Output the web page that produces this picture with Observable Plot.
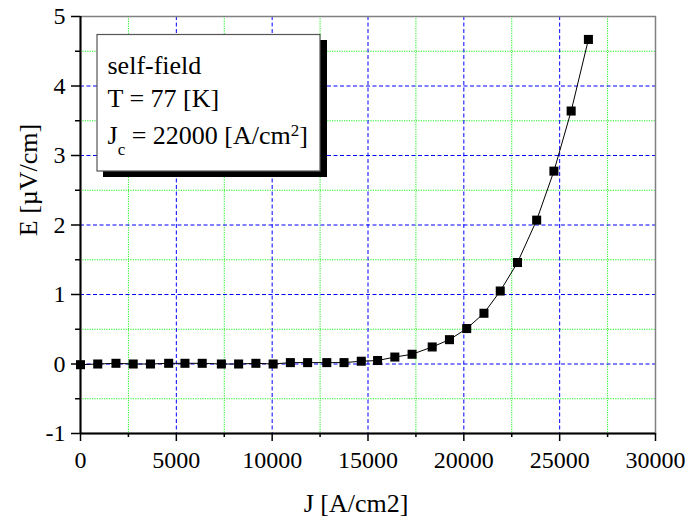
<!DOCTYPE html>
<html>
<head>
<meta charset="utf-8">
<script src="https://cdn.jsdelivr.net/npm/d3@7"></script>
<script src="https://cdn.jsdelivr.net/npm/@observablehq/plot@0.6"></script>
<style>
  html, body { margin: 0; padding: 0; background: #fff; }
  #chart { position: relative; width: 690px; height: 518px; }
  #chart svg, #chart svg text { font-family: "Liberation Serif", "Times New Roman", serif !important; }
</style>
</head>
<body>
<div id="chart"></div>
<script>
// Data
const J = [0, 900, 1850, 2750, 3650, 4600, 5450, 6350, 7350, 8250, 9150, 10050, 10950, 11850, 12850, 13750, 14650, 15500, 16400, 17300, 18350, 19250, 20150, 21050, 21900, 22800, 23800, 24700, 25600, 26500];
const E = [-0.01, 0, 0.01, 0, 0, 0.01, 0.01, 0.01, 0, 0, 0.01, 0, 0.02, 0.02, 0.02, 0.02, 0.04, 0.05, 0.10, 0.14, 0.245, 0.35, 0.51, 0.73, 1.05, 1.46, 2.07, 2.775, 3.64, 4.67];
const xMajor = [0, 5000, 10000, 15000, 20000, 25000, 30000];
const xMinor = [2500, 7500, 12500, 17500, 22500, 27500];
const yMajor = [-1, 0, 1, 2, 3, 4, 5];
const yMinor = [-0.5, 0.5, 1.5, 2.5, 3.5, 4.5];
const xTitle = "J [A/cm2]";
const yTitle = "E [µV/cm]";
const legendLines = ["self-field", "T = 77 [K]"];

const data = J.map((j, i) => ({J: j, E: E[i]}));

const plot = Plot.plot({
  width: 690,
  height: 518,
  marginLeft: 80,
  marginRight: 35,
  marginTop: 16,
  marginBottom: 85,
  style: {fontSize: "24px", color: "black", background: "white"},
  x: {domain: [0, 30000]},
  y: {domain: [-1, 5]},
  marks: [
    Plot.ruleX(xMinor, {stroke: "#22ee22", strokeDasharray: "1.2,1.2", strokeWidth: 1}),
    Plot.ruleY(yMinor, {stroke: "#22ee22", strokeDasharray: "1.2,1.2", strokeWidth: 1}),
    Plot.ruleX(xMajor.filter(d => d > 0 && d < 30000), {stroke: "#0000ff", strokeDasharray: "4,2.5", strokeWidth: 1}),
    Plot.ruleY(yMajor.filter(d => d > -1 && d < 5), {stroke: "#0000ff", strokeDasharray: "4,2.5", strokeWidth: 1}),
    Plot.frame({stroke: "#808080", strokeWidth: 1.5}),
    Plot.axisX({ticks: xMajor, tickSize: 8, tickPadding: 9, tickFormat: d => String(d), label: null, fontSize: 24, stroke: "black", strokeWidth: 1.5}),
    Plot.axisX({ticks: xMinor, tickSize: 4, tickFormat: () => "", label: null, stroke: "black", strokeWidth: 1.5}),
    Plot.axisY({ticks: yMajor, tickSize: 9, tickPadding: 6, tickFormat: d => String(d), label: null, fontSize: 24, stroke: "black", strokeWidth: 1.5}),
    Plot.axisY({ticks: yMinor, tickSize: 5, tickFormat: () => "", label: null, stroke: "black", strokeWidth: 1.5}),
    Plot.ruleX([0], {stroke: "black", strokeWidth: 2}),
    Plot.ruleY([-1], {stroke: "black", strokeWidth: 2}),
    Plot.line(data, {x: "J", y: "E", stroke: "black", strokeWidth: 1}),
    Plot.dot(data, {x: "J", y: "E", symbol: "square", r: 5.1, fill: "black", stroke: "none"})
  ]
});

document.getElementById("chart").appendChild(plot);

const svg = d3.select(plot);
const font = "'Liberation Serif', 'Times New Roman', serif";

// Axis titles
svg.append("text").attr("x", 356).attr("y", 512).attr("text-anchor", "middle")
  .attr("font-family", font).attr("font-size", 26).attr("fill", "black").text(xTitle);
svg.append("text").attr("transform", "translate(37,180) rotate(-90)").attr("text-anchor", "middle")
  .attr("font-family", font).attr("font-size", 26).attr("fill", "black").text(yTitle);

// Legend box (annotation)
const g = svg.append("g").attr("font-family", font).attr("fill", "black").attr("text-anchor", "start");
g.append("rect").attr("x", 103).attr("y", 40).attr("width", 224).attr("height", 137).attr("fill", "black");
g.append("rect").attr("x", 97).attr("y", 34.5).attr("width", 223).attr("height", 136.5).attr("fill", "white").attr("stroke", "#555").attr("stroke-width", 1.2);
g.append("text").attr("x", 107.5).attr("y", 73.5).attr("font-size", 26).text(legendLines[0]);
g.append("text").attr("x", 107.5).attr("y", 107).attr("font-size", 26).text(legendLines[1]);
const t3 = g.append("text").attr("x", 107.5).attr("y", 144).attr("font-size", 26);
t3.append("tspan").text("J");
t3.append("tspan").attr("font-size", 17).attr("dy", 11).text("c");
t3.append("tspan").attr("font-size", 26).attr("dy", -11).text(" = 22000 [A/cm");
t3.append("tspan").attr("font-size", 17).attr("dy", -8).text("2");
t3.append("tspan").attr("font-size", 26).attr("dy", 8).text("]");
</script>
</body>
</html>
